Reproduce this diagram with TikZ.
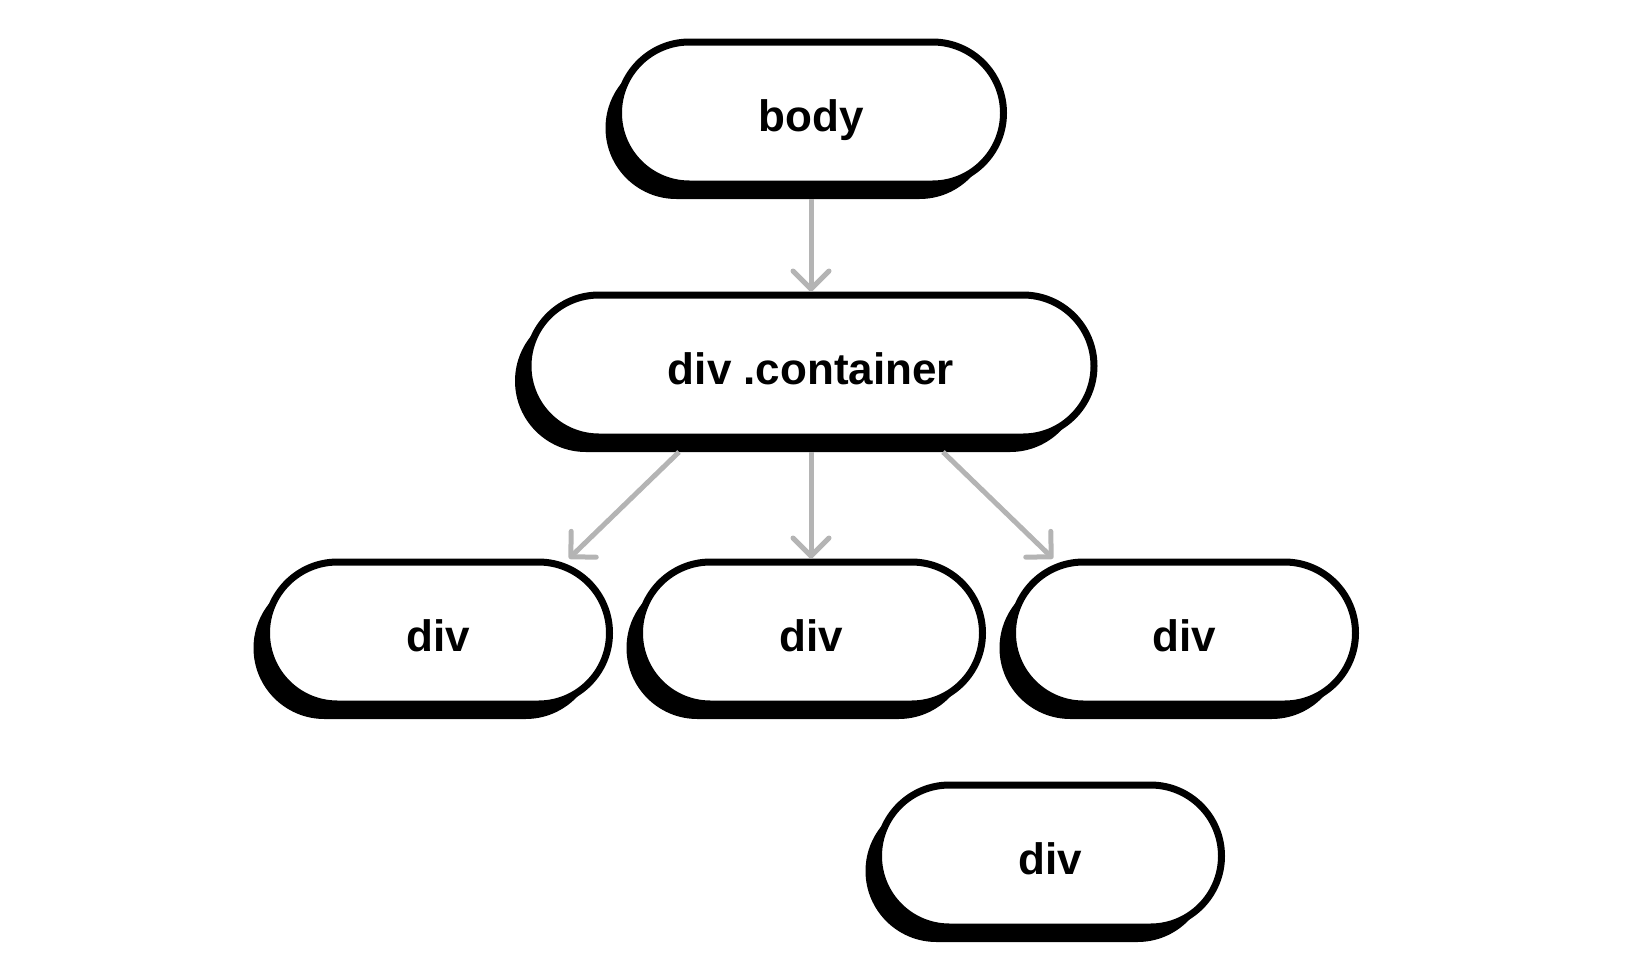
\documentclass[tikz,border=0pt]{standalone}
\usepackage{fontspec}
\setmainfont{Liberation Sans}
\usetikzlibrary{
  arrows.meta,
  positioning,
  shapes.misc,
  shadows
}
\definecolor{edgegray}{RGB}{180,180,180}

\tikzset{
  pill/.style={rounded rectangle, draw=black, fill=white, line width=3.5pt,
    minimum height=71pt, minimum width=171.5pt, inner sep=0pt,
    text height=18pt, text depth=0pt,
    font=\fontsize{22pt}{26pt}\selectfont\bfseries,
    drop shadow={shadow xshift=-6.5pt, shadow yshift=-7.5pt, fill=black, opacity=1}},
  edge/.style={draw=edgegray, line width=2.5pt,
    -{Straight Barb[length=9pt, width=18pt, round]}}
}

\begin{document}
\begin{tikzpicture}[x=0.5pt, y=-0.5pt]
  \useasboundingbox (0,0) rectangle (1640,970);
  \node[pill, minimum width=192.5pt] (body) at (811,113) {body};
  \node[pill, minimum width=283pt, below=52pt of body] (cont) {div .container};
  \node[pill, below=59pt of cont] (divB) {div};
  \node[pill, left=11.5pt of divB] (divA) {div};
  \node[pill, right=11.5pt of divB] (divC) {div};
  \node[pill] (divD) at (1050,856) {div};
  \draw[edge] ([yshift=-5.75pt]body.south) -- (cont.north);
  \draw[edge] ([xshift=-66pt, yshift=-5.75pt]cont.south) -- ([xshift=65.5pt]divA.north);
  \draw[edge] ([yshift=-5.75pt]cont.south) -- (divB.north);
  \draw[edge] ([xshift=66pt, yshift=-5.75pt]cont.south) -- ([xshift=-65.5pt]divC.north);
\end{tikzpicture}
\end{document}
